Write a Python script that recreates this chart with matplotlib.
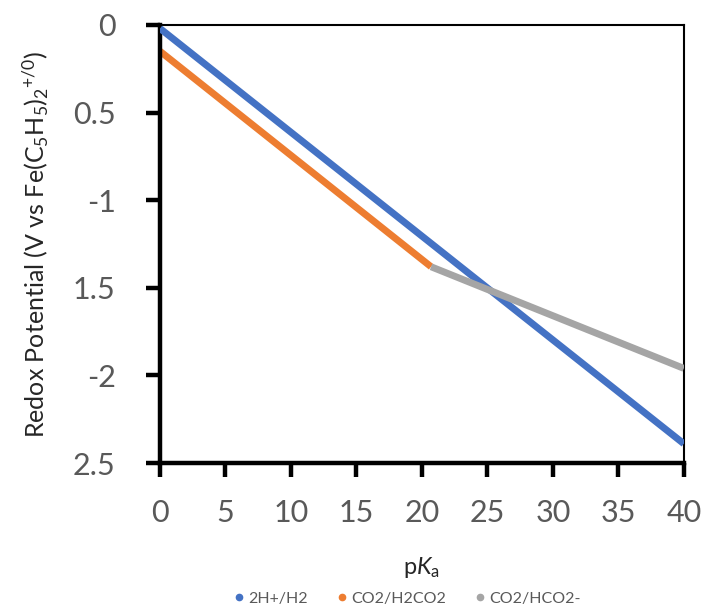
import numpy as np
import matplotlib.pyplot as plt
from matplotlib.lines import Line2D

plt.rcParams['font.family'] = ['Lato', 'DejaVu Sans']
plt.rcParams['mathtext.fontset'] = 'custom'
plt.rcParams['mathtext.rm'] = 'Lato'
plt.rcParams['mathtext.it'] = 'Lato:italic'

# data
h2_x = [0, 40]
h2_y = [-0.02, -2.39]
h2co2_x = [0, 20.7]
h2co2_y = [-0.15, -1.38]
hco2_x = [20.7, 40]
hco2_y = [-1.38, -1.96]

series_names = ["2H+/H2", "CO2/H2CO2", "CO2/HCO2-"]
series_colors = ["#4472C4", "#ED7D31", "#A5A5A5"]

x_ticks = [0, 5, 10, 15, 20, 25, 30, 35, 40]
y_ticks = [0, -0.5, -1, -1.5, -2, -2.5]
y_ticklabels = ["0", "0.5", "-1", "1.5", "-2", "2.5"]

text_grey = "#595959"

fig = plt.figure(figsize=(7.06, 6.11), dpi=100)
ax = fig.add_axes([0.2266, 0.2422, 0.742, 0.717])

ax.plot(h2_x, h2_y, color=series_colors[0], lw=5, solid_capstyle="butt", zorder=3)
ax.plot(h2co2_x, h2co2_y, color=series_colors[1], lw=5, solid_capstyle="butt", zorder=2)
ax.plot(hco2_x, hco2_y, color=series_colors[2], lw=5, solid_capstyle="butt", zorder=4)

ax.set_xlim(0, 40)
ax.set_ylim(-2.5, 0)
ax.set_xticks(x_ticks)
ax.set_yticks(y_ticks)
ax.set_yticklabels(y_ticklabels)

# spines: thick left/bottom, thin top/right
ax.spines["left"].set_linewidth(3.2)
ax.spines["bottom"].set_linewidth(3.2)
ax.spines["top"].set_linewidth(1.5)
ax.spines["right"].set_linewidth(1.5)
for s in ax.spines.values():
    s.set_color("black")

ax.tick_params(axis="both", direction="out", length=10, width=3.2,
               labelsize=22, labelcolor=text_grey)
ax.tick_params(axis="x", pad=16)
ax.tick_params(axis="y", pad=22)

ax.set_xlabel(r"p$K_\mathregular{a}$", fontsize=17, color="#262626", labelpad=20)
ax.set_ylabel(r"Redox Potential (V vs Fe(C$_\mathregular{5}$H$_\mathregular{5}$)$_\mathregular{2}$$^\mathregular{+/0}$)",
              fontsize=18, color="#262626", labelpad=16)

handles = [Line2D([], [], ls="none", marker="o", markersize=4.5, color=c) for c in series_colors]
fig.legend(handles, series_names, loc="lower center", bbox_to_anchor=(0.575, -0.015),
           ncol=3, frameon=False, fontsize=11.5, labelcolor=text_grey,
           handletextpad=0.1, columnspacing=1.6, handlelength=1.0)

fig.savefig("out.png", dpi=100)
